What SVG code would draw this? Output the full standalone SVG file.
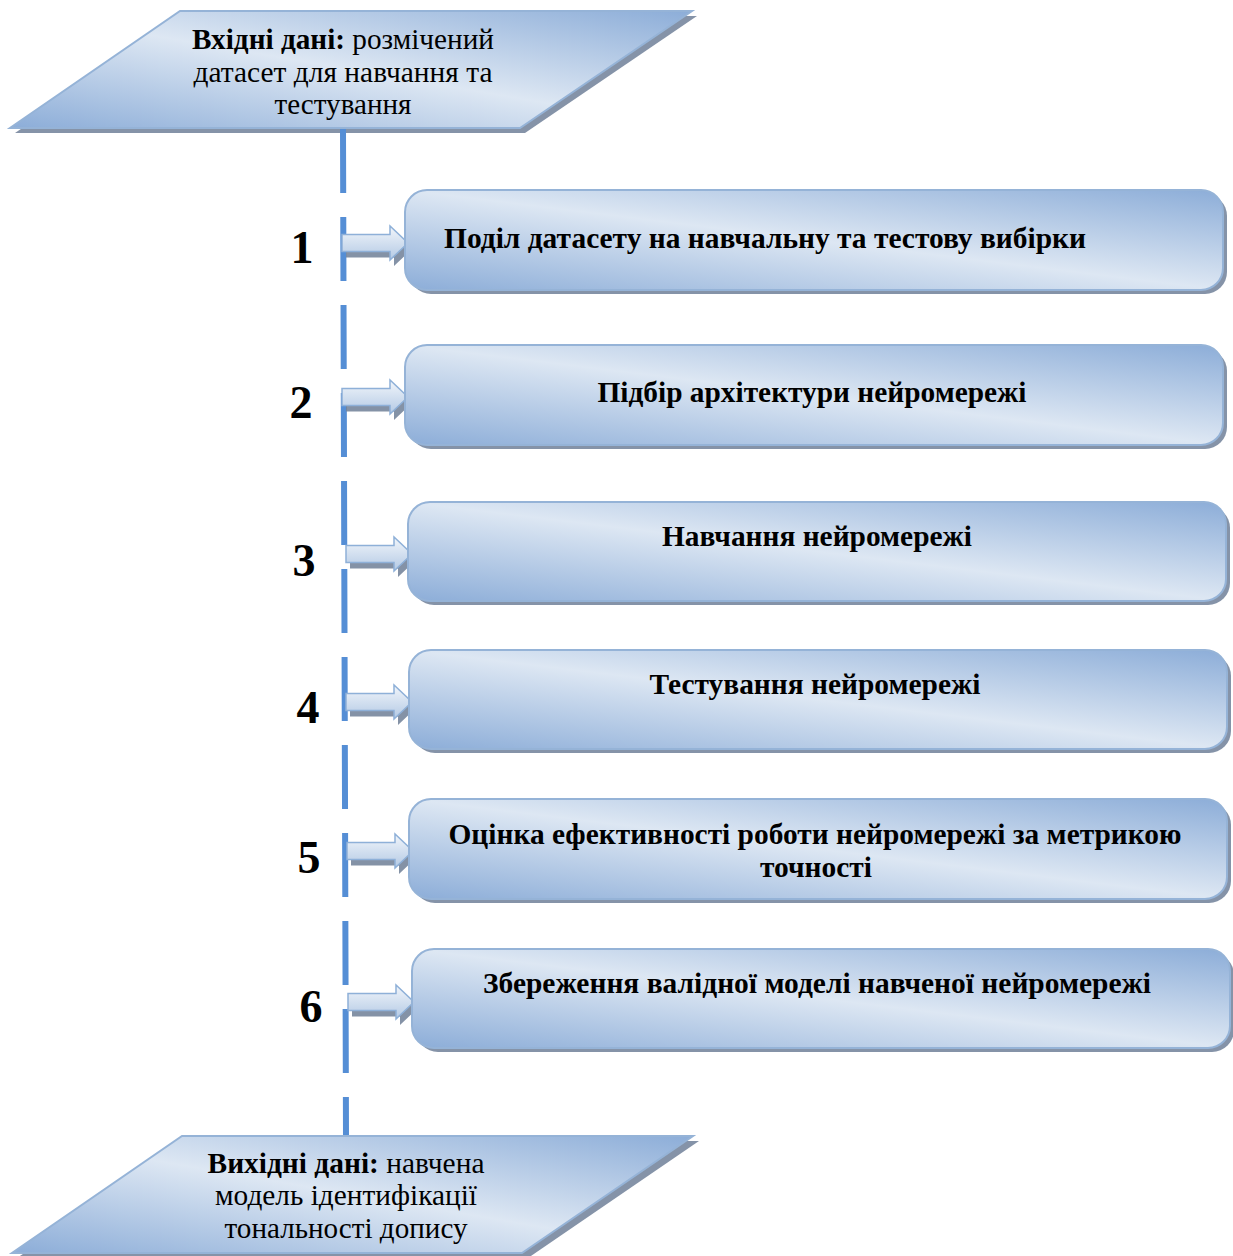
<svg xmlns="http://www.w3.org/2000/svg" xmlns:xlink="http://www.w3.org/1999/xlink" width="1233" height="1256" viewBox="0 0 1233 1256">
<style>
.bg{fill:#ffffff}
.box{fill:url(#g);stroke:#95b3d7;stroke-width:2}
.shd{fill:#8593a8}
.ashd{fill:#6f7f96;opacity:0.85}
.arr{fill:url(#ga);stroke:#8eb0d8;stroke-width:1.5}
.t{font-family:"Liberation Serif","Times New Roman",serif;fill:#000}
.bt{font-size:29px;font-weight:bold;text-anchor:middle}
.pt{font-size:29px;text-anchor:middle}
.num{font-size:46px;font-weight:bold;text-anchor:middle}
.spine{stroke:#558ed5;stroke-width:6;fill:none;stroke-dasharray:64 24}
</style>
<defs>
<linearGradient id="g" x1="1" y1="0" x2="0" y2="1">
<stop offset="0" stop-color="#8cadd8"/>
<stop offset="0.5" stop-color="#dde7f3"/>
<stop offset="1" stop-color="#8cadd8"/>
</linearGradient>
<linearGradient id="ga" x1="0" y1="0" x2="0" y2="1">
<stop offset="0" stop-color="#f2f6fb"/>
<stop offset="1" stop-color="#b3c9e4"/>
</linearGradient>
<path id="arrow" d="M0,-8.5 H48 V-17 L66,0 L48,17 V8.5 H0 Z"/>
</defs>
<rect class="bg" x="0" y="0" width="1233" height="1256"/>

<g id="input">
<polygon class="shd" points="186,16 697,16 525,133 15,133"/>
<polygon class="box" points="180,11 692,11 520,128 10,128"/>
<text class="t pt" x="343" y="49" textLength="302" lengthAdjust="spacingAndGlyphs"><tspan font-weight="bold">Вхідні дані:</tspan> розмічений</text>
<text class="t pt" x="343" y="82" textLength="299" lengthAdjust="spacingAndGlyphs">датасет для навчання та</text>
<text class="t pt" x="343" y="114" textLength="137" lengthAdjust="spacingAndGlyphs">тестування</text>
</g>

<g id="connectors">
<line class="spine" x1="343" y1="129" x2="346" y2="1137"/>
<use href="#arrow" class="ashd" x="346" y="249"/>
<use href="#arrow" class="arr" x="342" y="243"/>
<use href="#arrow" class="ashd" x="346" y="403"/>
<use href="#arrow" class="arr" x="342" y="397"/>
<use href="#arrow" class="ashd" x="350" y="560"/>
<use href="#arrow" class="arr" x="346" y="554"/>
<use href="#arrow" class="ashd" x="350" y="708"/>
<use href="#arrow" class="arr" x="346" y="702"/>
<use href="#arrow" class="ashd" x="351" y="857"/>
<use href="#arrow" class="arr" x="347" y="851"/>
<use href="#arrow" class="ashd" x="352" y="1008"/>
<use href="#arrow" class="arr" x="348" y="1002"/>
</g>

<g id="step1">
<text class="t num" x="302" y="263">1</text>
<rect class="shd" x="409" y="194" width="818" height="100" rx="22"/>
<rect class="box" x="405" y="190" width="818" height="100" rx="22"/>
<text class="t bt" x="765" y="248" textLength="642" lengthAdjust="spacingAndGlyphs">Поділ датасету на навчальну та тестову вибірки</text>
</g>

<g id="step2">
<text class="t num" x="301" y="418">2</text>
<rect class="shd" x="409" y="349" width="818" height="100" rx="22"/>
<rect class="box" x="405" y="345" width="818" height="100" rx="22"/>
<text class="t bt" x="812" y="402" textLength="429" lengthAdjust="spacingAndGlyphs">Підбір архітектури нейромережі</text>
</g>

<g id="step3">
<text class="t num" x="304" y="576">3</text>
<rect class="shd" x="412" y="506" width="818" height="99" rx="22"/>
<rect class="box" x="408" y="502" width="818" height="99" rx="22"/>
<text class="t bt" x="817" y="546" textLength="310" lengthAdjust="spacingAndGlyphs">Навчання нейромережі</text>
</g>

<g id="step4">
<text class="t num" x="308" y="723">4</text>
<rect class="shd" x="413" y="654" width="818" height="99" rx="22"/>
<rect class="box" x="409" y="650" width="818" height="99" rx="22"/>
<text class="t bt" x="815" y="694" textLength="331" lengthAdjust="spacingAndGlyphs">Тестування нейромережі</text>
</g>

<g id="step5">
<text class="t num" x="309" y="873">5</text>
<rect class="shd" x="413" y="803" width="818" height="100" rx="22"/>
<rect class="box" x="409" y="799" width="818" height="100" rx="22"/>
<text class="t bt" x="815" y="844" textLength="733" lengthAdjust="spacingAndGlyphs">Оцінка ефективності роботи нейромережі за метрикою</text>
<text class="t bt" x="816" y="877" textLength="112" lengthAdjust="spacingAndGlyphs">точності</text>
</g>

<g id="step6">
<text class="t num" x="311" y="1022">6</text>
<rect class="shd" x="416" y="953" width="818" height="99" rx="22"/>
<rect class="box" x="412" y="949" width="818" height="99" rx="22"/>
<text class="t bt" x="817" y="993" textLength="668" lengthAdjust="spacingAndGlyphs">Збереження валідної моделі навченої нейромережі</text>
</g>

<g id="output">
<polygon class="shd" points="188,1141 699,1141 528,1258 17,1258"/>
<polygon class="box" points="182,1136 693,1136 522,1253 12,1253"/>
<text class="t pt" x="346" y="1173" textLength="277" lengthAdjust="spacingAndGlyphs"><tspan font-weight="bold">Вихідні дані:</tspan> навчена</text>
<text class="t pt" x="346" y="1205" textLength="262" lengthAdjust="spacingAndGlyphs">модель ідентифікації</text>
<text class="t pt" x="346" y="1238" textLength="243" lengthAdjust="spacingAndGlyphs">тональності допису</text>
</g>
</svg>
